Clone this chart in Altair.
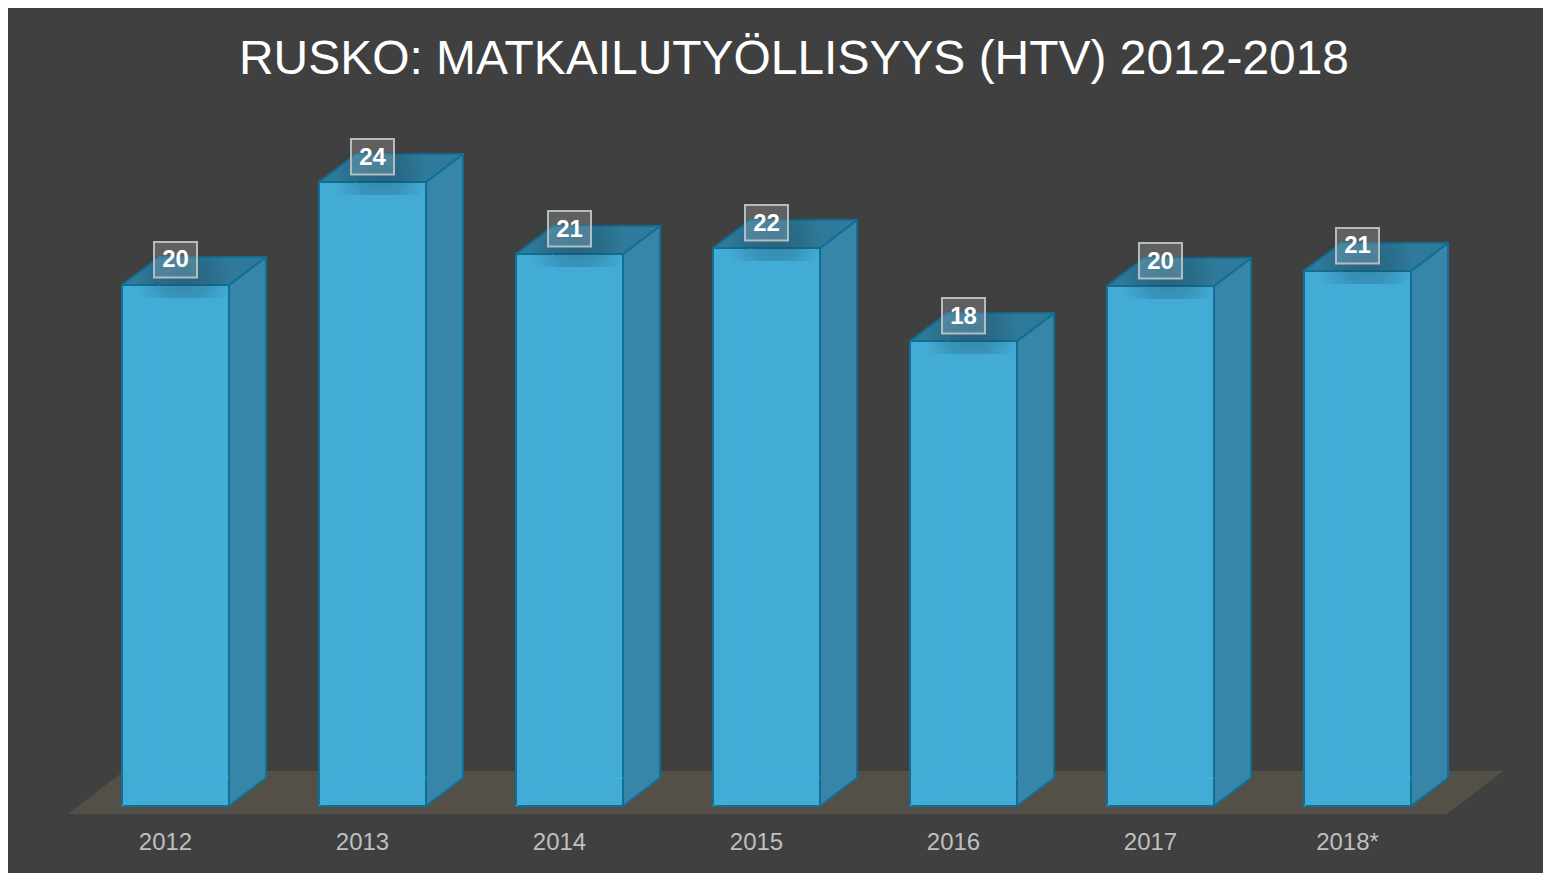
import json
import altair as alt
import pandas as pd

YEARS = ["2012", "2013", "2014", "2015", "2016", "2017", "2018*"]
VALUES = [20.04, 24.0, 21.23, 21.46, 17.88, 20.0, 20.58]
LABELS = ["20", "24", "21", "22", "18", "20", "21"]
TITLE = "RUSKO: MATKAILUTYÖLLISYYS (HTV) 2012-2018"

# one category = 197 px, one value unit = 26 px
PX_X, PX_Y = 197.0, 26.0
LEFT, RIGHT = -44.5 / PX_X, 62.5 / PX_X   # bar front relative to the category centre
DX, DY = 37 / PX_X, 28 / PX_Y             # 3D depth
F0, F1 = -8 / PX_Y, 35 / PX_Y             # floor, front and back edge
XDOM = [(8 - 166.5) / PX_X, (1543 - 166.5) / PX_X]
YDOM = [F0, 718 / PX_Y]

BG, FLOOR = "#404040", "#545048"
FRONT, SIDE, TOP = "#43acd6", "#3785a8", "#2f7a9a"
EDGE, INNER = "#116f93", "#38b6e6"

fronts, sides, tops, rules, boxes = [], [], [], [], []
for i, v in enumerate(VALUES):
    l, r = i + LEFT, i + RIGHT
    fronts.append({"x": l, "x2": r, "y": 0, "y2": v})
    sides += [{"b": i, "x": r, "y": 0, "y2": v}, {"b": i, "x": r + DX, "y": DY, "y2": v + DY}]
    tops += [{"b": i, "y": v, "x": l, "x2": r}, {"b": i, "y": v + DY, "x": l + DX, "x2": r + DX}]
    rules += [
        {"x": l + DX, "x2": l + DX, "y": DY, "y2": v},
        {"x": l + DX, "x2": r, "y": DY, "y2": DY},
        {"x": l, "x2": l + DX, "y": 0, "y2": DY},
    ]
    c = (l + r) / 2
    boxes.append({"c": c, "x": c - 21.5 / PX_X, "x2": c + 21.5 / PX_X,
                  "y": v + 7.5 / PX_Y, "y2": v + 43 / PX_Y, "m": v + 25.5 / PX_Y,
                  "sx": c - 40 / PX_X, "sx2": c + 56 / PX_X,
                  "sy": v - 13 / PX_Y, "sy2": v + 30 / PX_Y, "t": LABELS[i]})

axis = alt.Axis(
    values=list(range(len(YEARS))),
    labelExpr=f"{json.dumps(YEARS)}[datum.value]",
    title=None, domain=False, ticks=False, grid=False,
    labelColor="#bfbfbf", labelFontSize=24, labelFont="Liberation Sans",
    labelPadding=16, labelOffset=-1.5, labelFlush=False, labelOverlap=False,
)

X = lambda f: alt.X(f"{f}:Q", scale=alt.Scale(domain=XDOM, nice=False, zero=False), axis=axis)
Y = lambda f="y": alt.Y(f"{f}:Q", scale=alt.Scale(domain=YDOM, nice=False, zero=False), axis=None)
x2 = alt.X2("x2:Q")
y2 = alt.Y2("y2:Q")

floor = alt.Chart(pd.DataFrame([
    {"y": F0, "x": -0.5, "x2": 6.5},
    {"y": F1, "x": -0.5 + 56 / PX_X, "x2": 6.5 + 56 / PX_X},
])).mark_area(orient="horizontal", color=FLOOR).encode(X("x"), x2, Y())

side = alt.Chart(pd.DataFrame(sides)).mark_area(
    color=SIDE, stroke=EDGE, strokeWidth=2, orient="vertical", strokeJoin="round"
).encode(X("x"), Y(), y2, detail="b:N")

top = alt.Chart(pd.DataFrame(tops)).mark_area(
    color=TOP, stroke=EDGE, strokeWidth=2, orient="horizontal", strokeJoin="round"
).encode(X("x"), x2, Y(), detail="b:N")

front = alt.Chart(pd.DataFrame(fronts)).mark_rect(
    color=FRONT, stroke=EDGE, strokeWidth=2
).encode(X("x"), x2, Y(), y2)

inner = alt.Chart(pd.DataFrame(rules)).mark_rule(
    color=INNER, strokeWidth=1.5, opacity=0.65
).encode(X("x"), x2, Y(), y2)

bdf = pd.DataFrame(boxes)
shadow = alt.Chart(bdf).mark_rect(
    fill=alt.RadialGradient(
        gradient="radial", x1=0.5, y1=0.5, x2=0.5, y2=0.5, r1=0, r2=0.5,
        stops=[alt.GradientStop(offset=0, color="rgba(20,50,70,0.30)"),
               alt.GradientStop(offset=0.5, color="rgba(20,50,70,0.20)"),
               alt.GradientStop(offset=1, color="rgba(20,50,70,0)")],
    )
).encode(X("sx"), alt.X2("sx2:Q"), Y("sy"), alt.Y2("sy2:Q"))

box = alt.Chart(bdf).mark_rect(
    fill="rgba(255,255,255,0.17)", stroke="#b4bcc0", strokeWidth=2
).encode(X("x"), x2, Y(), y2)

text = alt.Chart(bdf).mark_text(
    font="Liberation Sans", fontSize=24, fontWeight="bold", color="white",
    align="center", baseline="middle", dy=1,
).encode(X("c"), Y("m"), text="t:N")

chart = alt.layer(floor, side, top, front, inner, shadow, box, text).properties(
    width=1535, height=726,
    autosize=alt.AutoSizeParams(type="none"),
    padding={"left": 0, "top": 80, "right": 0, "bottom": 59},
    background=BG,
    title=alt.TitleParams(
        TITLE, font="Liberation Sans", fontSize=47.95, fontWeight="normal",
        color="white", anchor="middle", dx=18.5, offset=4,
    ),
).configure_view(stroke=None)

chart.save("out.html", embed_options={"renderer": "svg", "actions": False})
